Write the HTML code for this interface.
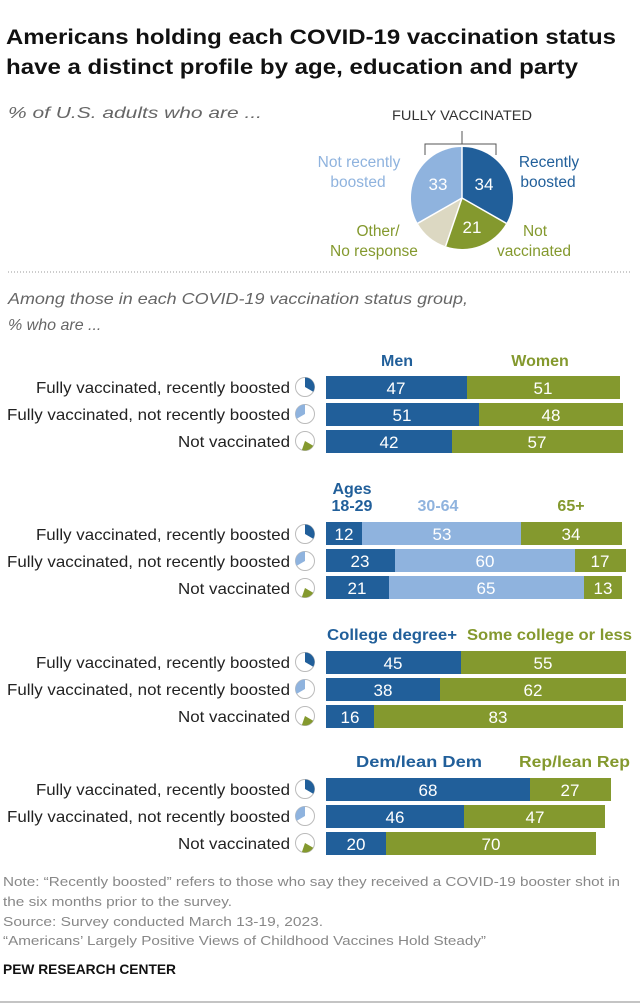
<!DOCTYPE html>
<html><head><meta charset="utf-8"><style>
body{margin:0;background:#fff}
svg{display:block;font-family:"Liberation Sans",sans-serif}
</style></head><body>
<svg width="640" height="1008" viewBox="0 0 640 1008" xmlns="http://www.w3.org/2000/svg">
<rect width="640" height="1008" fill="#fff"/>
<text x="6" y="44" font-size="21" font-weight="bold" fill="#111" textLength="610" lengthAdjust="spacingAndGlyphs">Americans holding each COVID-19 vaccination status</text>
<text x="6" y="74" font-size="21" font-weight="bold" fill="#111" textLength="572" lengthAdjust="spacingAndGlyphs">have a distinct profile by age, education and party</text>
<text x="8" y="118" font-size="16" font-style="italic" fill="#666" textLength="254" lengthAdjust="spacingAndGlyphs">% of U.S. adults who are ...</text>

<!-- pie -->
<text x="462" y="120" font-size="14" fill="#333" text-anchor="middle" textLength="140" lengthAdjust="spacingAndGlyphs">FULLY VACCINATED</text>
<path d="M425 155 V144 H496 V155 M462 144 V131" fill="none" stroke="#555" stroke-width="1"/>
<g transform="translate(462,198)">
<path d="M0 0 L0 -51 A51 51 0 0 1 44.3 25.3 Z" fill="#215f9a"/>
<path d="M0 0 L44.3 25.3 A51 51 0 0 1 -16.4 48.3 Z" fill="#84992e"/>
<path d="M0 0 L-16.4 48.3 A51 51 0 0 1 -44.3 25.3 Z" fill="#dcd8c2"/>
<path d="M0 0 L-44.3 25.3 A51 51 0 0 1 0 -51 Z" fill="#8fb3de"/>
<g stroke="#fff" stroke-width="1.5"><line x1="0" y1="0" x2="0" y2="-51"/><line x1="0" y1="0" x2="44.3" y2="25.3"/><line x1="0" y1="0" x2="-16.4" y2="48.3"/><line x1="0" y1="0" x2="-44.3" y2="25.3"/></g>
</g>
<g font-size="17" fill="#fff" text-anchor="middle"><text x="438" y="190">33</text><text x="484" y="190">34</text><text x="472" y="233">21</text></g>
<g font-size="15.5" text-anchor="middle">
<text x="359" y="167" fill="#8fb3de">Not recently</text><text x="358" y="187" fill="#8fb3de">boosted</text>
<text x="549" y="167" fill="#215f9a">Recently</text><text x="548" y="187" fill="#215f9a">boosted</text>
<text x="378" y="236" fill="#84992e">Other/</text><text x="374" y="256" fill="#84992e">No response</text>
<text x="535" y="236" fill="#84992e">Not</text><text x="534" y="256" fill="#84992e">vaccinated</text>
</g>
<line x1="8" y1="272" x2="632" y2="272" stroke="#999" stroke-dasharray="1,2"/>
<text x="8" y="304" font-size="16" font-style="italic" fill="#666" textLength="460" lengthAdjust="spacingAndGlyphs">Among those in each COVID-19 vaccination status group,</text>
<text x="8" y="330" font-size="16" font-style="italic" fill="#666">% who are ...</text>

<defs>
<g id="i1"><circle r="9.5" fill="#fff" stroke="#bbb"/><path d="M0 0 L0 -9.5 A9.5 9.5 0 0 1 8.2 4.8 Z" fill="#215f9a"/></g>
<g id="i2"><circle r="9.5" fill="#fff" stroke="#bbb"/><path d="M0 0 L-8.2 4.8 A9.5 9.5 0 0 1 0 -9.5 Z" fill="#8fb3de"/></g>
<g id="i3"><circle r="9.5" fill="#fff" stroke="#bbb"/><path d="M0 0 L8.2 4.8 A9.5 9.5 0 0 1 -3.1 9 Z" fill="#84992e"/></g>
<g id="lab" font-size="16" fill="#222">
<text x="36" y="6" textLength="254" lengthAdjust="spacingAndGlyphs">Fully vaccinated, recently boosted</text>
<text x="7" y="33" textLength="283" lengthAdjust="spacingAndGlyphs">Fully vaccinated, not recently boosted</text>
<text x="178" y="60" textLength="112" lengthAdjust="spacingAndGlyphs">Not vaccinated</text>
</g>
<g id="ic"><use href="#i1" x="305" y="0"/><use href="#i2" x="305" y="27"/><use href="#i3" x="305" y="54"/></g>
</defs>

<!-- group 1 -->
<g font-size="16" font-weight="bold" text-anchor="middle"><text x="397" y="366" fill="#215f9a">Men</text><text x="540" y="366" fill="#84992e">Women</text></g>
<g transform="translate(0,387)"><use href="#lab"/><use href="#ic"/></g>
<g>
<rect x="326" y="376" width="141" height="23" fill="#215f9a"/><rect x="467" y="376" width="153" height="23" fill="#84992e"/>
<rect x="326" y="403" width="153" height="23" fill="#215f9a"/><rect x="479" y="403" width="144" height="23" fill="#84992e"/>
<rect x="326" y="430" width="126" height="23" fill="#215f9a"/><rect x="452" y="430" width="171" height="23" fill="#84992e"/>
</g>
<g font-size="17" fill="#fff" text-anchor="middle">
<text x="396" y="394">47</text><text x="543" y="394">51</text>
<text x="402" y="421">51</text><text x="551" y="421">48</text>
<text x="389" y="448">42</text><text x="537" y="448">57</text>
</g>

<!-- group 2 -->
<g font-size="16" font-weight="bold" text-anchor="middle">
<text x="352" y="494" fill="#215f9a">Ages</text><text x="352" y="511" fill="#215f9a">18-29</text>
<text x="438" y="511" fill="#8fb3de">30-64</text><text x="571" y="511" fill="#84992e">65+</text></g>
<g transform="translate(0,534)"><use href="#lab"/><use href="#ic"/></g>
<rect x="326" y="522" width="36" height="23" fill="#215f9a"/><rect x="362" y="522" width="159" height="23" fill="#8fb3de"/><rect x="521" y="522" width="101" height="23" fill="#84992e"/>
<rect x="326" y="549" width="69" height="23" fill="#215f9a"/><rect x="395" y="549" width="180" height="23" fill="#8fb3de"/><rect x="575" y="549" width="51" height="23" fill="#84992e"/>
<rect x="326" y="576" width="63" height="23" fill="#215f9a"/><rect x="389" y="576" width="195" height="23" fill="#8fb3de"/><rect x="584" y="576" width="38" height="23" fill="#84992e"/>
<g font-size="17" fill="#fff" text-anchor="middle">
<text x="344" y="540">12</text><text x="442" y="540">53</text><text x="571" y="540">34</text>
<text x="360" y="567">23</text><text x="485" y="567">60</text><text x="600" y="567">17</text>
<text x="357" y="594">21</text><text x="486" y="594">65</text><text x="603" y="594">13</text>
</g>

<!-- group 3 -->
<g font-size="16" font-weight="bold"><text x="327" y="640" fill="#215f9a" textLength="130" lengthAdjust="spacingAndGlyphs">College degree+</text><text x="467" y="640" fill="#84992e" textLength="165" lengthAdjust="spacingAndGlyphs">Some college or less</text></g>
<g transform="translate(0,662)"><use href="#lab"/><use href="#ic"/></g>
<rect x="326" y="651" width="135" height="23" fill="#215f9a"/><rect x="461" y="651" width="165" height="23" fill="#84992e"/>
<rect x="326" y="678" width="114" height="23" fill="#215f9a"/><rect x="440" y="678" width="186" height="23" fill="#84992e"/>
<rect x="326" y="705" width="48" height="23" fill="#215f9a"/><rect x="374" y="705" width="249" height="23" fill="#84992e"/>
<g font-size="17" fill="#fff" text-anchor="middle">
<text x="393" y="669">45</text><text x="543" y="669">55</text>
<text x="383" y="696">38</text><text x="533" y="696">62</text>
<text x="350" y="723">16</text><text x="498" y="723">83</text>
</g>

<!-- group 4 -->
<g font-size="16" font-weight="bold"><text x="356" y="767" fill="#215f9a" textLength="126" lengthAdjust="spacingAndGlyphs">Dem/lean Dem</text><text x="519" y="767" fill="#84992e" textLength="111" lengthAdjust="spacingAndGlyphs">Rep/lean Rep</text></g>
<g transform="translate(0,789)"><use href="#lab"/><use href="#ic"/></g>
<rect x="326" y="778" width="204" height="23" fill="#215f9a"/><rect x="530" y="778" width="81" height="23" fill="#84992e"/>
<rect x="326" y="805" width="138" height="23" fill="#215f9a"/><rect x="464" y="805" width="141" height="23" fill="#84992e"/>
<rect x="326" y="832" width="60" height="23" fill="#215f9a"/><rect x="386" y="832" width="210" height="23" fill="#84992e"/>
<g font-size="17" fill="#fff" text-anchor="middle">
<text x="428" y="796">68</text><text x="570" y="796">27</text>
<text x="395" y="823">46</text><text x="535" y="823">47</text>
<text x="356" y="850">20</text><text x="491" y="850">70</text>
</g>

<!-- footnotes -->
<g font-size="13" fill="#888">
<text x="3" y="886" textLength="617" lengthAdjust="spacingAndGlyphs">Note: “Recently boosted” refers to those who say they received a COVID-19 booster shot in</text>
<text x="3" y="906" textLength="229" lengthAdjust="spacingAndGlyphs">the six months prior to the survey.</text>
<text x="3" y="926" textLength="320" lengthAdjust="spacingAndGlyphs">Source: Survey conducted March 13-19, 2023.</text>
<text x="3" y="945" textLength="483" lengthAdjust="spacingAndGlyphs">“Americans’ Largely Positive Views of Childhood Vaccines Hold Steady”</text>
</g>
<text x="3" y="974" font-size="14" font-weight="bold" fill="#111" textLength="173" lengthAdjust="spacingAndGlyphs">PEW RESEARCH CENTER</text>
<line x1="0" y1="1002" x2="640" y2="1002" stroke="#888" stroke-width="1"/>
</svg>
</body></html>
